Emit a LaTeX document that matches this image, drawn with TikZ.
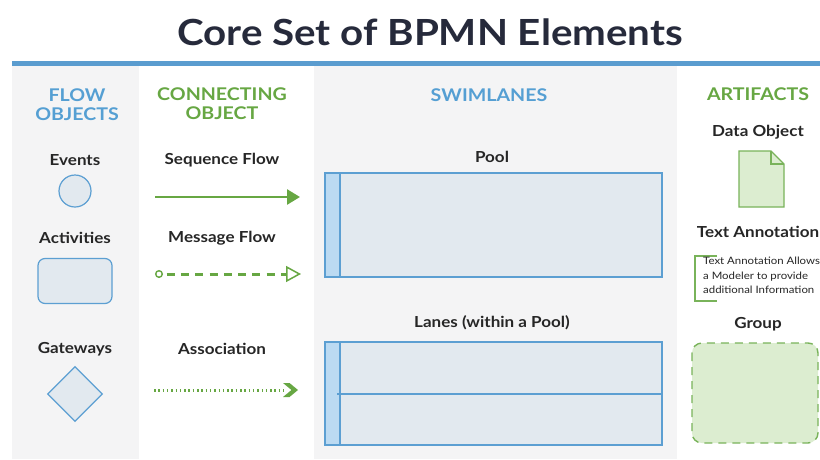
\documentclass[tikz,border=0pt]{standalone}
\usepackage{fontspec}
\setmainfont[FakeStretch=1.12]{Lato}
\usetikzlibrary{arrows.meta,shapes.geometric}
\definecolor{titlec}{HTML}{262A3B}
\definecolor{hblue}{HTML}{559FD3}
\definecolor{hgreen}{HTML}{67A743}
\definecolor{lgreen}{HTML}{DCEDD0}
\definecolor{dgreen}{HTML}{79B35A}
\definecolor{colgray}{HTML}{F4F4F5}
\definecolor{shfill}{HTML}{E2E9EF}
\definecolor{shline}{HTML}{5C9FD2}
\definecolor{hdrfill}{HTML}{BBDAF2}
\definecolor{barblue}{HTML}{5A9CCF}
\tikzset{
  heading/.style={font=\bfseries\fontsize{17.5}{19}\selectfont, align=center},
  lbl/.style={font=\bfseries\fontsize{15.2}{16}\selectfont, text=black!85},
  shp/.style={draw=shline, fill=shfill, line width=1.2pt},
  gline/.style={draw=hgreen, line width=2.6pt},
}
\begin{document}
\begin{tikzpicture}[x=1pt,y=-1pt]
\useasboundingbox (0,0) rectangle (820,459);
\fill[white] (0,0) rectangle (820,459);
% column backgrounds
\fill[colgray] (12,66) rectangle (139,459);
\fill[colgray] (314,66) rectangle (677,459);
% title and bar
\node[font=\bfseries\fontsize{36}{40}\selectfont, text=titlec] (title) at (430,32) {Core Set of BPMN Elements};
\fill[barblue] (12,61) rectangle (820,66);
% headings
\node[heading, text=hblue] (hflow) at (77,105) {FLOW\\OBJECTS};
\node[heading, text=hgreen] (hconn) at (222,104) {CONNECTING\\OBJECT};
\node[heading, text=hblue] (hswim) at (489,95) {SWIMLANES};
\node[heading, text=hgreen] (hart) at (758,94) {ARTIFACTS};
% flow objects
\node[lbl] (levents) at (75,160) {Events};
\node[shp, circle, minimum size=32pt, inner sep=0pt] (event) at (75,191) {};
\node[lbl] (lact) at (75,238) {Activities};
\node[shp, rounded corners=7pt, minimum width=74pt, minimum height=45pt] (activity) at (75,281) {};
\node[lbl] (lgate) at (75,349) {Gateways};
\node[shp, diamond, minimum width=55pt, minimum height=55pt, inner sep=0pt] (gateway) at (75,394) {};
% connecting objects
\node[lbl] (lseq) at (222,160) {Sequence Flow};
\coordinate (s1) at (155,197);
\coordinate (s2) at (300,197);
\draw[gline, -{Triangle[length=13pt,width=15pt]}] (s1) -- (s2);
\node[lbl] (lmsg) at (222,238) {Message Flow};
\coordinate (m1) at (155,274);
\coordinate (m2) at (301,274);
\draw[draw=hgreen, line width=3pt, dash pattern=on 8pt off 6.3pt, dash phase=10pt,
  {Circle[open,length=8pt,width=8pt,line width=1.4pt]}-{Triangle[open,length=15pt,width=16pt,line width=1.5pt]}] (m1) -- (m2);
\node[lbl] (lassoc) at (222,349) {Association};
\coordinate (a1) at (154,390);
\coordinate (a2) at (298,390);
\draw[draw=hgreen, line width=3pt, dash pattern=on 1.5pt off 2.8pt] (a1) -- ([xshift=-14pt]a2);
\fill[hgreen] ([shift={(-15,-7)}]a2) -- ([shift={(-8.5,-7)}]a2) -- (a2) -- ([shift={(-8.5,7)}]a2) -- ([shift={(-15,7)}]a2) -- ([shift={(-6.5,0)}]a2) -- cycle;
% swimlanes
\node[lbl] (lpool) at (492,157) {Pool};
\draw[shp] (325,173) rectangle (662,277);
\draw[shp, fill=hdrfill] (325,173) rectangle (340,277);
\node[lbl] (llanes) at (492,323) {Lanes (within a Pool)};
\draw[shp] (325,342) rectangle (662,445);
\draw[shp, fill=hdrfill] (325,342) rectangle (340,445);
\draw[draw=shline, line width=1.2pt] (337,394) -- (662,394);
% artifacts
\node[lbl] (ldata) at (758,132) {Data Object};
\draw[draw=dgreen, fill=lgreen, line width=1.1pt] (739,151) -- (771,151) -- (784,164) -- (784,207) -- (739,207) -- cycle;
\draw[draw=dgreen, line width=1.1pt] (771,151) -- (771,164) -- (784,164);
\node[lbl] (lann) at (758,232) {Text Annotation};
\draw[draw=dgreen, line width=1.8pt] (717,256) -- (695,256) -- (695,301) -- (717,301);
\node[font=\fontsize{10.2}{14.5}\selectfont, text=black!85, align=left, anchor=north west, inner sep=0pt] (anntext) at (703,257) {Text Annotation Allows\\a Modeler to provide\\additional Information};
\node[lbl] (lgroup) at (758,324) {Group};
\draw[draw=dgreen, fill=lgreen, line width=1.4pt, dash pattern=on 8pt off 6pt, rounded corners=10pt] (692,343) rectangle (818,443);
\end{tikzpicture}
\end{document}
